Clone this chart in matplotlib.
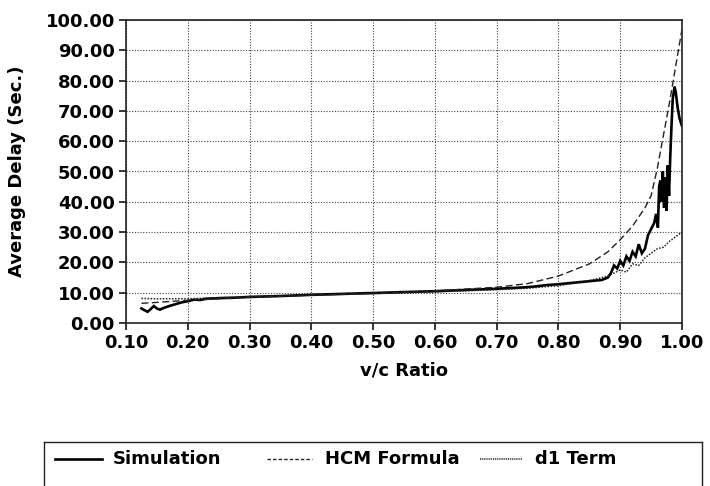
import matplotlib
matplotlib.use("Agg")
import matplotlib.pyplot as plt
from matplotlib.lines import Line2D
from matplotlib.ticker import FormatStrFormatter, MultipleLocator

plt.rcParams['font.family'] = ['DejaVu Sans']
plt.rcParams['font.weight'] = 'bold'

# ---- data ----
sim_x = [0.125, 0.13, 0.135, 0.14, 0.145, 0.15, 0.155, 0.16, 0.17, 0.18, 0.19, 0.20,
         0.21, 0.22, 0.23, 0.25, 0.27, 0.30, 0.35, 0.40, 0.45, 0.50, 0.55, 0.60, 0.65,
         0.70, 0.72, 0.74, 0.76, 0.78, 0.80, 0.82, 0.84, 0.86, 0.87, 0.875, 0.88, 0.885,
         0.89, 0.895, 0.90, 0.905, 0.91, 0.915, 0.92, 0.925, 0.93, 0.935, 0.94, 0.945,
         0.95, 0.955, 0.958, 0.961, 0.963, 0.965, 0.967, 0.969, 0.971, 0.973, 0.975,
         0.977, 0.979, 0.981, 0.983, 0.985, 0.988, 0.99, 0.993, 0.996, 1.0]
sim_y = [4.8, 4.2, 3.7, 4.6, 5.6, 4.8, 4.4, 4.9, 5.6, 6.2, 6.8, 7.2,
         7.7, 7.6, 8.0, 8.2, 8.3, 8.6, 8.9, 9.3, 9.6, 9.9, 10.2, 10.5, 10.9,
         11.3, 11.5, 11.7, 12.0, 12.5, 12.8, 13.2, 13.6, 14.0, 14.2, 14.6, 15.0, 16.5,
         19.0, 18.0, 20.5, 19.0, 22.0, 20.5, 23.5, 22.0, 26.0, 23.0, 24.5, 29.0,
         31.0, 33.0, 36.0, 31.5, 45.0, 47.0, 40.0, 50.0, 38.0, 48.0, 37.0,
         52.0, 42.0, 55.0, 65.0, 74.0, 78.0, 76.0, 71.0, 67.5, 65.0]

hcm_x = [0.125, 0.15, 0.20, 0.30, 0.40, 0.50, 0.60, 0.70, 0.75, 0.80, 0.85, 0.88,
         0.90, 0.92, 0.94, 0.95, 0.96, 0.97, 0.98, 0.99, 1.0]
hcm_y = [6.5, 6.8, 7.5, 8.5, 9.2, 9.8, 10.6, 11.8, 13.0, 15.5, 19.5, 23.5,
         27.5, 32.0, 38.0, 42.0, 51.0, 62.0, 73.0, 85.0, 97.0]

d1_x = [0.125, 0.15, 0.20, 0.30, 0.40, 0.50, 0.60, 0.70, 0.75, 0.80, 0.85, 0.88,
        0.90, 0.91, 0.92, 0.93, 0.94, 0.95, 0.96, 0.97, 0.98, 0.99, 1.0]
d1_y = [8.1, 8.0, 8.0, 8.7, 9.2, 9.7, 10.3, 11.0, 11.5, 12.3, 14.0, 15.5,
        17.5, 16.8, 19.5, 19.0, 21.5, 23.0, 24.5, 25.0, 27.0, 28.5, 30.0]

x_ticks = [0.10, 0.20, 0.30, 0.40, 0.50, 0.60, 0.70, 0.80, 0.90, 1.00]
series_names = ["Simulation", "HCM Formula", "d1 Term"]

FS = 13
W, H = 710, 486
fig = plt.figure(figsize=(W / 100, H / 100), dpi=100)
ax = fig.add_axes([126 / W, 1 - 323 / H, (682 - 126) / W, (323 - 20) / H])

l_sim, = ax.plot(sim_x, sim_y, color='black', lw=1.9, solid_joinstyle='miter')
l_hcm, = ax.plot(hcm_x, hcm_y, color='#222222', lw=1.0, dashes=(5, 2.5))
l_d1, = ax.plot(d1_x, d1_y, color='#222222', lw=1.1, dashes=(1, 1))

ax.set_xlim(0.1, 1.0)
ax.set_ylim(0, 100)
ax.set_xticks(x_ticks)
ax.yaxis.set_major_locator(MultipleLocator(10))
ax.xaxis.set_major_formatter(FormatStrFormatter('%.2f'))
ax.yaxis.set_major_formatter(FormatStrFormatter('%.2f'))
ax.grid(True, color='#444444', lw=0.8, linestyle=(0, (1, 1.5)))
ax.set_axisbelow(True)
for s in ax.spines.values():
    s.set_linewidth(1.2)
    s.set_color('#222222')
ax.tick_params(direction='out', length=5, width=1.1, labelsize=FS, pad=3)
for lab in ax.get_xticklabels() + ax.get_yticklabels():
    lab.set_fontweight('bold')
ax.set_xlabel('v/c Ratio', fontsize=FS, fontweight='bold', labelpad=7)
ax.set_ylabel('Average Delay (Sec.)', fontsize=FS, fontweight='bold', labelpad=14)

# ---- legend box (manual, at bottom, partially cut off) ----
lax = fig.add_axes([44 / W, -0.05, (702 - 44) / W, (486 - 442) / H + 0.05])
lax.set_xlim(44, 702)
lax.set_ylim(486 + 0.05 * H, 442)
lax.set_xticks([])
lax.set_yticks([])
for s in lax.spines.values():
    s.set_linewidth(1.0)
    s.set_color('#222222')
ty = 459
entries = [(l_sim, 55, 102, 113), (l_hcm, 267, 312, 325), (l_d1, 480, 522, 535)]
for (ln, x0, x1, tx), name in zip(entries, series_names):
    kw = dict(color=ln.get_color(), lw=ln.get_linewidth())
    if ln is l_sim:
        lax.add_line(Line2D([x0, x1], [ty, ty], **kw))
    elif ln is l_hcm:
        lax.add_line(Line2D([x0, x1], [ty, ty], dashes=(2.5, 1.5), **kw))
    else:
        lax.add_line(Line2D([x0, x1], [ty, ty], dashes=(0.8, 0.6), **kw))
    lax.text(tx, ty, name, fontsize=FS, fontweight='bold', va='center', ha='left')

fig.savefig('out.png', dpi=100)
